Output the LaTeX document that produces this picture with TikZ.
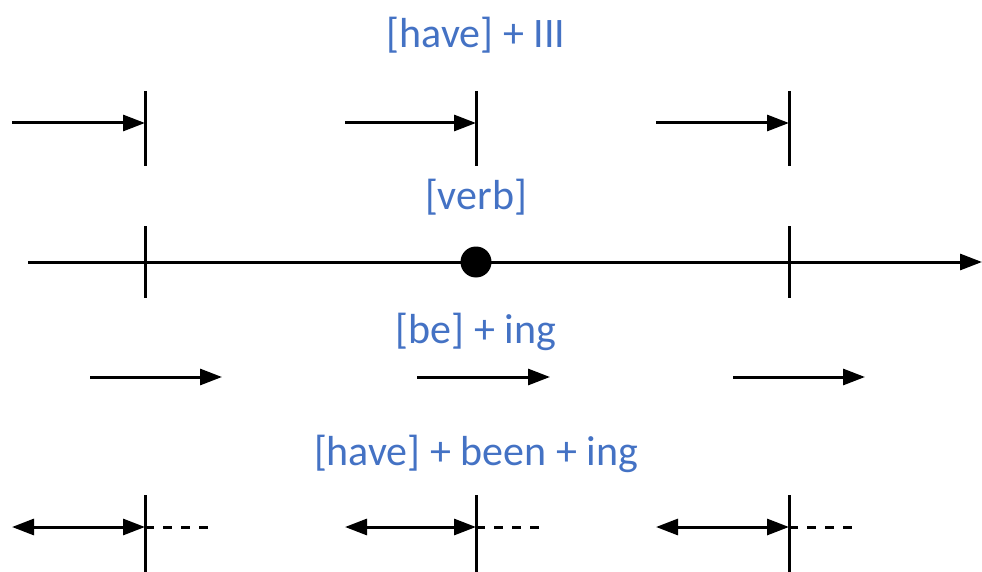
\documentclass[tikz,border=0pt]{standalone}
\usepackage{fontspec}
\setmainfont{Carlito}
\usetikzlibrary{arrows.meta}
\definecolor{labelblue}{RGB}{68,114,196}

\begin{document}
\begin{tikzpicture}[x=1pt, y=-1pt, >={Triangle[length=22pt, width=16pt]},
    line width=3pt,
    lbl/.style={font=\fontsize{42}{48}\selectfont, text=labelblue, inner sep=0pt},
    tick/.style={line width=3pt},
    dot/.style={circle, fill=black, minimum size=31pt, inner sep=0pt}]
    \useasboundingbox (0,0) rectangle (982,572);
    % labels
    \node[lbl] (perf)   at (476,35)  {[have] + III};
    \node[lbl] (verb)   at (476,197) {[verb]};
    \node[lbl] (prog)   at (476,332) {[be] + ing};
    \node[lbl] (perfpr) at (476,454) {[have] + been + ing};
    % time line
    \coordinate (tl0) at (28,262); \coordinate (tl1) at (982,262);
    \node[dot] (now) at (476,262) {};
    \draw[->] (tl0)--(tl1);
    \coordinate (pa) at (145,226); \coordinate (pb) at (145,298);
    \coordinate (fa) at (789,226); \coordinate (fb) at (789,298);
    \draw[tick] (pa)--(pb); \draw[tick] (fa)--(fb);
    % perfect
    \coordinate (p1) at (12,123);  \coordinate (p1e) at (145,123);
    \coordinate (p2) at (345,123); \coordinate (p2e) at (476,123);
    \coordinate (p3) at (656,123); \coordinate (p3e) at (789,123);
    \draw[->] (p1)--(p1e); \draw[->] (p2)--(p2e); \draw[->] (p3)--(p3e);
    \draw[tick] (145,91)--(145,166); \draw[tick] (476,91)--(476,166);
    \draw[tick] (789,91)--(789,166);
    % progressive
    \coordinate (g1) at (90,377);  \coordinate (g1e) at (222,377);
    \coordinate (g2) at (417,377); \coordinate (g2e) at (550,377);
    \coordinate (g3) at (733,377); \coordinate (g3e) at (865,377);
    \draw[->] (g1)--(g1e); \draw[->] (g2)--(g2e); \draw[->] (g3)--(g3e);
    % perfect progressive
    \coordinate (h1) at (12,527);  \coordinate (h1e) at (145,527); \coordinate (h1d) at (210,527);
    \coordinate (h2) at (345,527); \coordinate (h2e) at (476,527); \coordinate (h2d) at (540,527);
    \coordinate (h3) at (656,527); \coordinate (h3e) at (789,527); \coordinate (h3d) at (853,527);
    \draw[<->] (h1)--(h1e); \draw[<->] (h2)--(h2e); \draw[<->] (h3)--(h3e);
    \draw[dash pattern=on 9pt off 9pt] (h1e)--(h1d);
    \draw[dash pattern=on 9pt off 9pt] (h2e)--(h2d);
    \draw[dash pattern=on 9pt off 9pt] (h3e)--(h3d);
    \draw[tick] (145,495)--(145,572); \draw[tick] (476,495)--(476,572);
    \draw[tick] (789,495)--(789,572);
\end{tikzpicture}
\end{document}
